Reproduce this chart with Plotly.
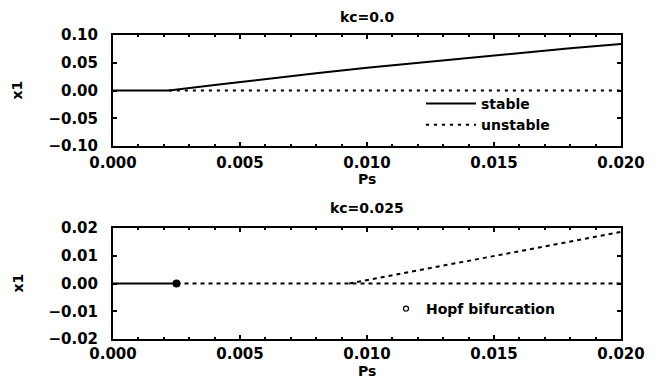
import plotly.graph_objects as go
from plotly.subplots import make_subplots

# kc = 0.0 : equilibrium branches
ps_stable_top = [0.0, 0.0022, 0.0040, 0.0060, 0.0080, 0.0100, 0.0120,
                 0.0140, 0.0160, 0.0180, 0.0200]
x1_stable_top = [0.0, 0.0, 0.010, 0.021, 0.031, 0.041, 0.050,
                 0.059, 0.067, 0.076, 0.084]
ps_unstable_top = [0.0022, 0.020]
x1_unstable_top = [0.0, 0.0]

# kc = 0.025 : equilibrium branches
ps_stable_bot = [0.0, 0.0025]
x1_stable_bot = [0.0, 0.0]
ps_unstable_bot = [0.0025, 0.020]
x1_unstable_bot = [0.0, 0.0]
ps_branch_bot = [0.0093, 0.020]
x1_branch_bot = [0.0, 0.0186]
ps_hopf = [0.0025]
x1_hopf = [0.0]

titles = ["kc=0.0", "kc=0.025"]
xticks = [0.0, 0.005, 0.010, 0.015, 0.020]
yticks_top = [-0.10, -0.05, 0.0, 0.05, 0.10]
yticks_bot = [-0.02, -0.01, 0.0, 0.01, 0.02]

FONT = "DejaVu Sans"
W, H = 663, 381
TXT = dict(family=FONT, size=14, color="black", weight="bold")
TICK = dict(family=FONT, size=15, color="black", weight="bold")

# plot-area geometry in pixels
X0, X1 = 113, 621
TOP_T, TOP_B = 35, 146
BOT_T, BOT_B = 228, 339

fig = make_subplots(rows=2, cols=1)

fig.add_trace(go.Scatter(x=ps_stable_top, y=x1_stable_top, mode="lines",
                         line=dict(color="black", width=2), name="stable",
                         legend="legend"), row=1, col=1)
fig.add_trace(go.Scatter(x=ps_unstable_top, y=x1_unstable_top, mode="lines",
                         line=dict(color="black", width=2, dash="3px,5px"),
                         name="unstable", legend="legend"), row=1, col=1)

fig.add_trace(go.Scatter(x=ps_stable_bot, y=x1_stable_bot, mode="lines",
                         line=dict(color="black", width=2), showlegend=False),
              row=2, col=1)
fig.add_trace(go.Scatter(x=ps_unstable_bot, y=x1_unstable_bot, mode="lines",
                         line=dict(color="black", width=2, dash="4px,4px"),
                         showlegend=False), row=2, col=1)
fig.add_trace(go.Scatter(x=ps_branch_bot, y=x1_branch_bot, mode="lines",
                         line=dict(color="black", width=2, dash="4px,4px"),
                         showlegend=False), row=2, col=1)
fig.add_trace(go.Scatter(x=ps_hopf, y=x1_hopf, mode="markers",
                         marker=dict(color="black", size=8, symbol="circle"),
                         showlegend=False), row=2, col=1)
# legend entry for the Hopf point
fig.add_trace(go.Scatter(x=[None], y=[None], mode="markers",
                         marker=dict(color="white", size=5, symbol="circle",
                                     line=dict(color="black", width=1.3)),
                         name="Hopf bifurcation", legend="legend2"), row=2, col=1)

axis_common = dict(showline=True, linecolor="black", linewidth=2, mirror="ticks",
                   ticks="inside", ticklen=4, tickwidth=1.5, tickcolor="black",
                   showgrid=False, zeroline=False, automargin=False, tickfont=TICK)

fig.update_xaxes(**axis_common, range=[0, 0.02], tickvals=xticks, tickformat=".3f",
                 ticklabelstandoff=2,
                 minor=dict(ticks="inside", ticklen=2, dtick=0.001, tickcolor="black"),
                 domain=[X0 / W, X1 / W])
fig.update_xaxes(ticklabelstandoff=0, row=2, col=1)
fig.update_yaxes(**axis_common, tickformat=".2f", ticklabelstandoff=10)
fig.update_yaxes(range=[-0.10, 0.10], tickvals=yticks_top,
                 domain=[1 - TOP_B / H, 1 - TOP_T / H], row=1, col=1)
fig.update_yaxes(range=[-0.02, 0.02], tickvals=yticks_bot,
                 domain=[1 - BOT_B / H, 1 - BOT_T / H], row=2, col=1)


def label(text, px, py, angle=0):
    fig.add_annotation(text=text, x=px / W, y=1 - py / H, xref="paper", yref="paper",
                       showarrow=False, textangle=angle, font=TXT, borderpad=0,
                       xanchor="center", yanchor="middle")


xc = (X0 + X1) / 2
label(titles[0], xc, 17)
label(titles[1], xc, 208)
label("Ps", xc, 179)
label("Ps", xc, 371)
label("x1", 17, (TOP_T + TOP_B) / 2, -90)
label("x1", 17, (BOT_T + BOT_B) / 2, -90)

fig.update_layout(
    width=W, height=H, margin=dict(l=0, r=0, t=0, b=0),
    paper_bgcolor="white", plot_bgcolor="white",
    font=TXT,
    legend=dict(x=421 / W, y=1 - 88 / H, xanchor="left", yanchor="top",
                bgcolor="rgba(0,0,0,0)", font=TXT, tracegroupgap=0, itemwidth=50),
    legend2=dict(x=386 / W, y=1 - 293 / H, xanchor="left", yanchor="top",
                 bgcolor="rgba(0,0,0,0)", font=TXT),
)

fig.write_html("out.html")
